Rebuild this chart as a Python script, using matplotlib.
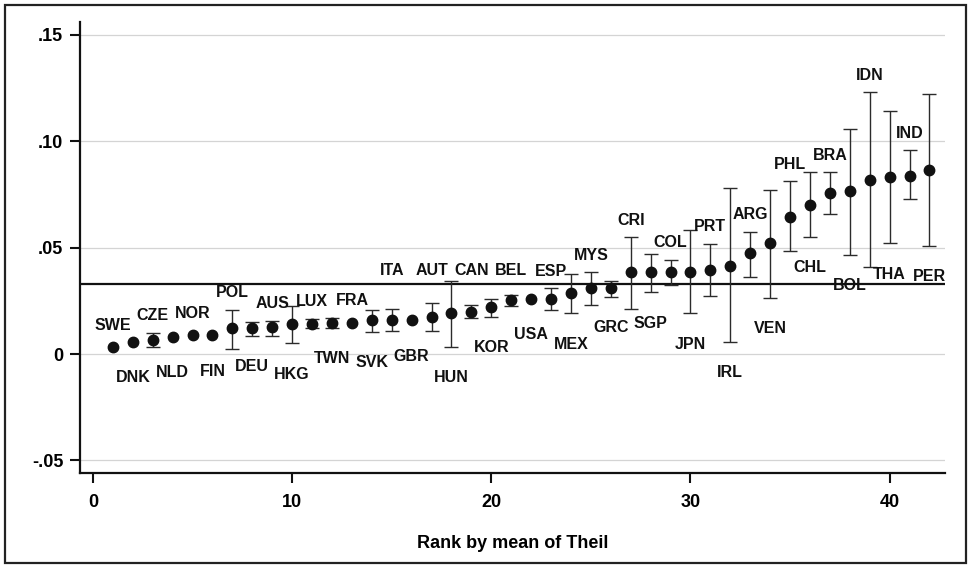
"""Theil index by country with confidence intervals, ranked by mean."""
import numpy as np
import matplotlib
matplotlib.use("Agg")
import matplotlib.pyplot as plt
from matplotlib.patches import Rectangle

countries = ["SWE", "DNK", "CZE", "NLD", "NOR", "FIN", "POL", "DEU", "AUS", "HKG",
             "LUX", "TWN", "FRA", "SVK", "ITA", "GBR", "AUT", "HUN", "CAN", "KOR",
             "BEL", "USA", "ESP", "MEX", "MYS", "GRC", "CRI", "SGP", "COL", "JPN",
             "PRT", "IRL", "ARG", "VEN", "PHL", "CHL", "BRA", "BOL", "IDN", "THA",
             "IND", "PER"]
theil_mean = [0.0031, 0.0058, 0.0066, 0.0082, 0.0089, 0.0089, 0.0121, 0.0121, 0.0129, 0.0141,
              0.0141, 0.0147, 0.0147, 0.0160, 0.0160, 0.0158, 0.0176, 0.0191, 0.0199, 0.0220,
              0.0254, 0.0259, 0.0259, 0.0286, 0.0309, 0.0310, 0.0385, 0.0385, 0.0385, 0.0387,
              0.0395, 0.0416, 0.0474, 0.0521, 0.0643, 0.0700, 0.0756, 0.0764, 0.0819, 0.0831,
              0.0839, 0.0866]
ci_low = [np.nan, np.nan, 0.0031, np.nan, np.nan, np.nan, 0.0022, 0.0085, 0.0085, 0.0050,
          0.0120, 0.0124, np.nan, 0.0105, 0.0110, np.nan, 0.0110, 0.0034, 0.0168, 0.0176,
          0.0226, np.nan, 0.0207, 0.0191, 0.0229, 0.0270, 0.0212, 0.0290, 0.0325, 0.0191,
          0.0275, 0.0058, 0.0364, 0.0265, 0.0482, 0.0552, 0.0657, 0.0466, 0.0410, 0.0520,
          0.0728, 0.0508]
ci_high = [np.nan, np.nan, 0.0100, np.nan, np.nan, np.nan, 0.0207, 0.0149, 0.0157, 0.0226,
           0.0165, 0.0168, np.nan, 0.0205, 0.0213, np.nan, 0.0239, 0.0343, 0.0229, 0.0257,
           0.0278, np.nan, 0.0310, 0.0376, 0.0384, 0.0345, 0.0550, 0.0468, 0.0442, 0.0584,
           0.0518, 0.0780, 0.0574, 0.0772, 0.0813, 0.0855, 0.0855, 0.1057, 0.1230, 0.1140,
           0.0957, 0.1224]
overall_mean = 0.033
y_ticks = [-0.05, 0, 0.05, 0.10, 0.15]
y_tick_labels = ["-.05", "0", ".05", ".10", ".15"]
x_ticks = [0, 10, 20, 30, 40]

plt.rcParams["font.family"] = ["Liberation Sans Narrow", "Liberation Sans", "DejaVu Sans"]
plt.rcParams["font.weight"] = "bold"

rank = np.arange(1, len(countries) + 1)
mean = np.array(theil_mean)
lo = np.array(ci_low)
hi = np.array(ci_high)

fig = plt.figure(figsize=(9.69, 5.68), dpi=100)
ax = fig.add_axes([0.0826, 0.167, 0.893, 0.794])
fig.add_artist(Rectangle((0.005, 0.009), 0.992, 0.982, transform=fig.transFigure,
                         fill=False, edgecolor="#222222", linewidth=1.6))

ax.set_xlim(-0.65, 42.8)
ax.set_ylim(-0.056, 0.156)

for yt in y_ticks:
    ax.axhline(yt, color="#d4d4d4", linewidth=0.9, zorder=0)
ax.axhline(overall_mean, color="#111111", linewidth=1.6, zorder=1)

has_ci = ~np.isnan(lo)
ax.errorbar(rank[has_ci], mean[has_ci],
            yerr=[mean[has_ci] - lo[has_ci], hi[has_ci] - mean[has_ci]],
            fmt="none", ecolor="#2b2b2b", elinewidth=1.0, capsize=5, capthick=1.0, zorder=2)
ax.plot(rank, mean, "o", color="#111111", markersize=7.5, zorder=3)

# marker radius and label offsets converted to data units
px_per_unit = ax.get_window_extent().height / (0.156 + 0.056)
r_data = 5 / px_per_unit
line_px_gap = 12 / px_per_unit
for i, name in enumerate(countries):
    if i % 2 == 0:
        top = max(np.nan_to_num(hi[i], nan=-1), mean[i] + r_data)
        centre = top + 17 / px_per_unit
        if mean[i] >= 0.0155 and abs(centre - overall_mean) < line_px_gap:
            centre = overall_mean + 13 / px_per_unit
    else:
        bottom = min(np.nan_to_num(lo[i], nan=1), mean[i] - r_data)
        centre = bottom - 31 / px_per_unit
    ax.text(rank[i], centre, name, ha="center", va="center", fontsize=11.5,
            fontweight="bold", color="#111111")

ax.set_xticks(x_ticks)
ax.set_yticks(y_ticks)
ax.set_yticklabels(y_tick_labels)
ax.tick_params(axis="both", labelsize=13, length=7, width=1.5, color="#111111", pad=5)
ax.tick_params(axis="x", pad=8)
ax.set_xlabel("Rank by mean of Theil", fontsize=13, fontweight="bold", labelpad=17)

for side in ["top", "right"]:
    ax.spines[side].set_visible(False)
for side in ["left", "bottom"]:
    ax.spines[side].set_linewidth(1.6)
    ax.spines[side].set_color("#111111")

fig.savefig("out.png", dpi=100)
